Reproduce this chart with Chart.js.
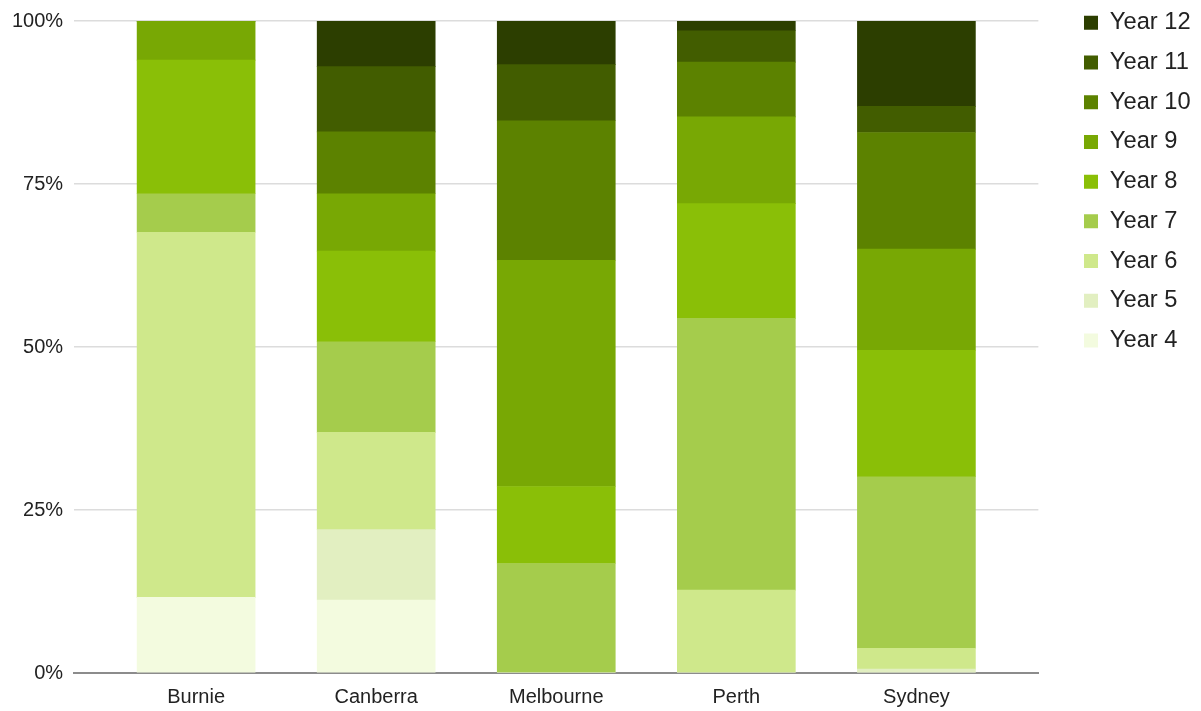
<!DOCTYPE html>
<html>
<head>
<meta charset="utf-8">
<script src="https://cdn.jsdelivr.net/npm/chart.js@4"></script>
<style>
html,body{margin:0;padding:0;background:#fff;}
#wrap{width:1201px;height:711px;}
</style>
</head>
<body>
<div id="wrap"><canvas id="c" width="1201" height="711"></canvas></div>
<script>
const categories = ["Burnie", "Canberra", "Melbourne", "Perth", "Sydney"];
const seriesNames = ["Year 4", "Year 5", "Year 6", "Year 7", "Year 8", "Year 9", "Year 10", "Year 11", "Year 12"];
const year4  = [11.6, 11.2, 0,    0,    0];
const year5  = [0,    10.8, 0,    0,    0.6];
const year6  = [56.0, 14.9, 0,    12.7, 3.2];
const year7  = [5.9,  13.9, 16.8, 41.7, 26.3];
const year8  = [20.5, 13.9, 11.8, 17.6, 19.4];
const year9  = [6.0,  8.8,  34.7, 13.3, 15.5];
const year10 = [0,    9.5,  21.4, 8.4,  17.9];
const year11 = [0,    10.0, 8.6,  4.8,  4.0];
const year12 = [0,    7.0,  6.7,  1.5,  13.1];
const yTicks = [0, 25, 50, 75, 100];
const seriesValues = [year4, year5, year6, year7, year8, year9, year10, year11, year12];
const colors = ["#f3fbdf", "#e2efc1", "#cfe88b", "#a5cc4c", "#8abf07", "#78a804", "#5c8200", "#425d00", "#2c3e00"];

const datasets = seriesNames.map((name, s) => ({
  label: name,
  data: seriesValues[s].map((v, i) => ({x: i, y: v})),
  backgroundColor: colors[s],
  borderWidth: 0,
  barThickness: 118
}));

const legendPlace = {
  id: 'legendPlace',
  afterLayout(chart) {
    const L = chart.legend;
    if (!L) return;
    const w = L.right - L.left, h = L.bottom - L.top;
    L.left = 1068; L.right = 1068 + w;
    L.top = -5; L.bottom = -5 + h;
  }
};

new Chart(document.getElementById('c'), {
  type: 'bar',
  data: { datasets },
  plugins: [legendPlace],
  options: {
    responsive: false,
    animation: false,
    layout: { padding: { top: 4, left: 1, right: 30, bottom: -10 } },
    plugins: {
      tooltip: { enabled: false },
      legend: {
        position: 'right',
        align: 'start',
        reverse: true,
        labels: {
          boxWidth: 14, boxHeight: 14, padding: 16,
          color: '#222',
          font: { family: 'Liberation Sans, Arial, sans-serif', size: 23.7 }
        }
      }
    },
    scales: {
      x: {
        type: 'linear',
        stacked: true,
        offset: false,
        min: -0.5 - 32/180.5,
        max: 4.5 + 32/180.5,
        afterBuildTicks: (scale) => { scale.ticks = categories.map((c, i) => ({value: i})); },
        ticks: {
          callback: (v) => categories[v] ?? '',
          color: '#222',
          padding: 12,
          maxRotation: 0,
          autoSkip: false,
          font: { family: 'Liberation Sans, Arial, sans-serif', size: 20 }
        },
        grid: { display: false, drawTicks: false, offset: false },
        border: { display: true, color: '#8c8c8c', width: 2 }
      },
      y: {
        stacked: true,
        min: 0, max: 100,
        afterBuildTicks: (scale) => { scale.ticks = yTicks.map(v => ({value: v})); },
        ticks: {
          callback: (v) => v + '%',
          color: '#222',
          padding: 11,
          font: { family: 'Liberation Sans, Arial, sans-serif', size: 20, lineHeight: 1.0 }
        },
        grid: { color: (ctx) => ctx.tick && ctx.tick.value === 0 ? 'rgba(0,0,0,0)' : '#dcdcdc', lineWidth: 1.5, drawTicks: false },
        border: { display: false }
      }
    }
  }
});
</script>
</body>
</html>
